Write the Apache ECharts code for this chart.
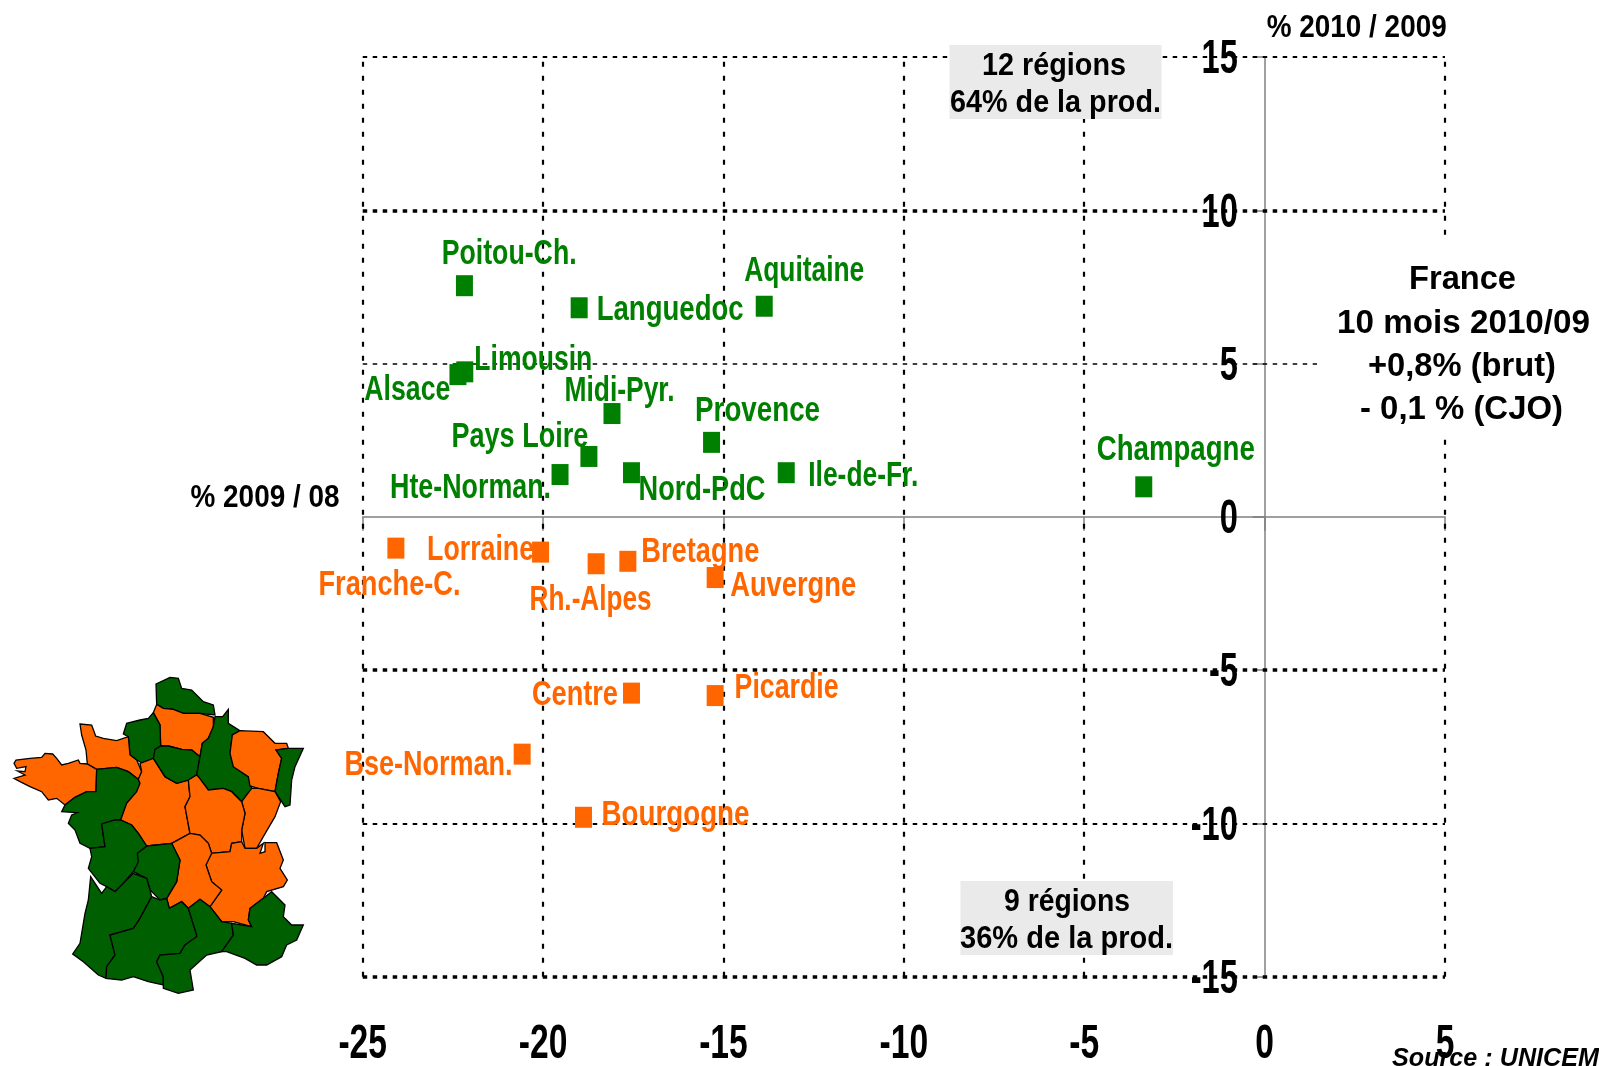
<!DOCTYPE html>
<html><head><meta charset="utf-8">
<style>html,body{margin:0;padding:0;background:#fff}#c{width:1599px;height:1066px}</style>
<script src="https://cdn.jsdelivr.net/npm/echarts@6/dist/echarts.min.js"></script>
</head><body><div id="c"></div>
<script>
// ---- data ----
const xTicks = [-25,-20,-15,-10,-5,0,5];
const yTicks = [15,10,5,0,-5,-10,-15];
const greenNames = ['Poitou-Ch.','Languedoc','Aquitaine','Limousin','Alsace','Midi-Pyr.','Provence','Pays Loire','Hte-Norman.','Nord-PdC','Ile-de-Fr.','Champagne'];
const greenX = [-22.18,-19.0,-13.87,-22.17,-22.36,-18.09,-15.33,-18.73,-19.53,-17.55,-13.26,-3.35];
const greenY = [7.54,6.82,6.87,4.73,4.64,3.37,2.43,1.97,1.38,1.44,1.44,0.98];
const orangeNames = ['Franche-C.','Lorraine','Rh.-Alpes','Bretagne','Auvergne','Centre','Picardie','Bse-Norman.','Bourgogne'];
const orangeX = [-24.08,-20.07,-18.53,-17.65,-15.23,-17.55,-15.23,-20.58,-18.88];
const orangeY = [-1.02,-1.15,-1.53,-1.45,-1.98,-5.75,-5.83,-7.74,-9.8];
const notes = {
  axisY:'% 2010 / 2009', axisX:'% 2009 / 08',
  top:['12 régions','64% de la prod.'], bottom:['9 régions','36% de la prod.'],
  france:['France','10 mois 2010/09','+0,8% (brut)','- 0,1 % (CJO)'],
  source:'Source : UNICEM'
};

// ---- layout of labels: [dx, dy, width] from the marker, in pixels ----
const labelPlace = {
 'Poitou-Ch.':[43.7,-33.3,135],'Languedoc':[90,1,147],'Aquitaine':[39,-37,120],'Limousin':[67.5,-14,118],
 'Alsace':[-51.6,14,86],'Midi-Pyr.':[6.5,-24,110],'Provence':[45,-33,125],'Pays Loire':[-70,-21,137],
 'Hte-Norman.':[-90.5,11.7,161],'Nord-PdC':[69.5,15.7,127],'Ile-de-Fr.':[76,2,110],'Champagne':[31,-38,158],
 'Franche-C.':[-7.4,35,142],'Lorraine':[-61,-3.4,107],'Rh.-Alpes':[-6.6,34.7,122],'Bretagne':[71.5,-11,118],
 'Auvergne':[77,6.7,126],'Centre':[-57.5,0,86],'Picardie':[70.4,-9,104],'Bse-Norman.':[-94.7,9,168],'Bourgogne':[91,-4,148]
};
const GREEN='#008000', ORANGE='#FF6600', FONT='"Liberation Sans"';
const measure = document.createElement('canvas').getContext('2d');
function fit(text,font,w){measure.font=font;return w/measure.measureText(text).width;}

function labelSeries(names,xs,ys,color){
  const font='bold 35px '+FONT;
  return {type:'custom',coordinateSystem:'cartesian2d',z:60,clip:false,silent:true,
    data:names.map((n,i)=>[xs[i],ys[i]]),encode:{x:0,y:1},
    renderItem(p,api){
      const c=api.coord([api.value(0),api.value(1)]),n=names[p.dataIndex],L=labelPlace[n];
      return {type:'text',x:c[0]+L[0]+1,y:c[1]+L[1]+2,scaleX:fit(n,font,L[2]),
        style:{text:n,x:0,y:0,align:'center',verticalAlign:'middle',font,fill:color}};
    }};
}
const tickFont='bold 48px '+FONT;
const xTickSeries={type:'custom',coordinateSystem:'cartesian2d',z:60,clip:false,silent:true,
  data:xTicks.map(v=>[v,-15]),encode:{x:0,y:1},
  renderItem(p,api){const c=api.coord([api.value(0),api.value(1)]);
    return {type:'text',x:c[0],y:c[1]+68,scaleX:0.7,
      style:{text:String(api.value(0)),x:0,y:0,align:'center',verticalAlign:'middle',font:tickFont,fill:'#000'}};}};
const yTickSeries={type:'custom',coordinateSystem:'cartesian2d',z:60,clip:false,silent:true,
  data:yTicks.map(v=>[0,v]),encode:{x:0,y:1},
  renderItem(p,api){const c=api.coord([api.value(0),api.value(1)]);
    return {type:'text',x:c[0]-26.7,y:c[1]+3,scaleX:0.68,
      style:{text:String(api.value(1)),x:0,y:0,align:'right',verticalAlign:'middle',font:tickFont,fill:'#000'}};}};

function note(text,cx,cy,w,size,extra){
  const font=(extra||'bold')+' '+size+'px '+FONT;
  return {type:'text',x:cx,y:cy+2,z:100,scaleX:fit(text,font,w),silent:true,
    style:{text,x:0,y:0,align:'center',verticalAlign:'middle',font,fill:'#000'}};
}
function box(x,y,w,h,fill){return {type:'rect',z:50,silent:true,shape:{x,y,width:w,height:h},style:{fill}};}

// ---- decorative map of France (outline) ----
const mapRegions=[
 [GREEN,[[468,72],[510,52],[535,55],[545,85],[575,90],[610,125],[640,135],[645,165],[600,160],[550,160],[520,148],[490,145],[470,133]]],
 [ORANGE,[[470,133],[490,145],[520,148],[550,160],[600,160],[640,172],[640,200],[625,235],[607,250],[600,290],[575,270],[545,268],[505,258],[482,258],[480,195],[460,158]]],
 [GREEN,[[460,158],[480,195],[482,258],[465,268],[465,295],[428,310],[410,300],[390,285],[385,230],[370,222],[380,190],[420,180],[445,175]]],
 [ORANGE,[[240,192],[275,195],[287,228],[310,235],[350,242],[385,230],[390,285],[410,300],[425,335],[415,358],[385,335],[350,322],[290,328],[262,312],[258,270],[245,225]]],
 [ORANGE,[[42,310],[48,300],[90,295],[125,292],[135,280],[158,282],[170,295],[185,315],[205,310],[235,300],[240,310],[262,312],[290,328],[288,395],[260,395],[225,412],[195,435],[170,415],[145,420],[125,395],[90,380],[60,365],[42,355],[75,345],[52,333],[75,335],[78,320],[50,325]]],
 [GREEN,[[290,328],[350,322],[385,335],[415,358],[420,370],[410,395],[380,430],[362,480],[345,480],[305,492],[315,560],[270,565],[240,550],[225,510],[205,490],[215,465],[232,458],[185,455],[195,435],[225,412],[260,395],[288,395]]],
 [ORANGE,[[415,358],[425,335],[420,310],[460,295],[495,350],[530,370],[565,360],[570,410],[555,440],[570,520],[515,550],[440,558],[415,520],[395,495],[362,480],[380,430],[410,395],[420,370]]],
 [GREEN,[[465,268],[482,258],[505,258],[545,268],[575,270],[600,290],[590,345],[565,360],[530,370],[495,350],[460,295]]],
 [GREEN,[[600,290],[607,250],[625,235],[640,200],[645,170],[668,170],[685,148],[685,190],[720,212],[697,225],[690,280],[700,320],[745,350],[755,385],[725,425],[695,395],[670,385],[625,390],[595,350],[590,345]]],
 [ORANGE,[[720,212],[790,215],[825,250],[860,250],[865,265],[828,270],[845,295],[835,340],[825,395],[775,385],[750,378],[745,350],[700,320],[690,280],[697,225]]],
 [GREEN,[[828,270],[865,265],[910,265],[885,320],[875,360],[870,435],[855,440],[825,395],[835,340],[845,295]]],
 [ORANGE,[[725,425],[755,385],[775,385],[825,395],[842,425],[825,470],[790,530],[770,565],[735,565],[725,510],[735,460]]],
 [ORANGE,[[565,360],[590,345],[595,350],[625,390],[670,385],[695,395],[725,425],[735,460],[725,510],[725,545],[695,550],[690,575],[635,580],[625,550],[600,525],[570,520],[555,440],[570,410]]],
 [ORANGE,[[630,580],[690,575],[695,550],[725,545],[735,565],[770,565],[790,550],[780,580],[795,575],[795,548],[830,548],[850,600],[840,625],[862,660],[850,680],[800,695],[790,715],[750,745],[745,780],[755,800],[700,785],[665,785],[630,740],[665,690],[635,665],[618,615]]],
 [ORANGE,[[515,550],[570,520],[600,525],[625,550],[635,580],[618,615],[635,665],[665,690],[630,740],[600,718],[565,745],[545,725],[508,745],[500,715],[530,665],[540,600]]],
 [GREEN,[[412,580],[440,558],[515,550],[540,600],[530,665],[500,715],[480,720],[450,690],[440,655],[400,635]]],
 [GREEN,[[305,492],[345,480],[362,480],[395,495],[415,520],[440,558],[412,580],[415,605],[400,635],[365,675],[345,695],[320,680],[300,670],[265,625],[275,590],[270,565],[315,560]]],
 [GREEN,[[400,640],[440,655],[450,690],[455,710],[420,775],[400,805],[330,825],[345,885],[320,920],[318,955],[295,945],[250,905],[218,882],[240,850],[255,760],[265,720],[272,650],[305,700],[320,680],[345,695],[365,675]]],
 [GREEN,[[455,710],[480,720],[500,715],[508,745],[545,725],[565,745],[590,825],[590,830],[555,855],[540,880],[480,885],[470,905],[490,950],[490,975],[445,965],[400,950],[365,960],[318,955],[320,920],[345,885],[330,825],[400,805],[420,775]]],
 [GREEN,[[565,745],[600,718],[630,740],[665,785],[695,790],[700,825],[665,875],[620,885],[570,930],[580,990],[535,1000],[490,985],[490,950],[470,905],[480,885],[540,880],[555,855],[590,830],[590,825]]],
 [GREEN,[[790,715],[815,695],[855,735],[850,770],[875,795],[910,795],[890,840],[860,855],[845,890],[800,915],[770,915],[735,895],[680,875],[665,875],[700,825],[695,790],[755,800],[745,780],[750,745]]]
];
const MAP_GREEN='#005F00';
const mapGraphic=mapRegions.map(([col,pts])=>({type:'polygon',z:10,silent:true,
  shape:{points:pts.map(([x,y])=>[x/3,660+y/3])},
  style:{fill:col===GREEN?MAP_GREEN:ORANGE,stroke:'#000',lineWidth:1.3}}));

const hLevels=[15,10,5,-5,-10,-15];
const hStyles=[
 {color:'#000',width:2,type:[4.5,5.5]},
 {color:'#000',width:3.5,type:[4.5,5.5]},
 {color:'#000',width:1.6,type:[4.5,5.5]},
 {color:'#000',width:3.5,type:[4.5,5.5]},
 {color:'#000',width:2,type:[4.5,5.5]},
 {color:'#000',width:3.5,type:[4.5,5.5]}
];
const vLevels=[-25,-20,-15,-10,-5,5];
const vStyle={color:'#000',width:2.2,type:[5,9]};
const axisGrey={lineStyle:{color:'#808080',width:1.5}};

const chart=echarts.init(document.getElementById('c'),null,{renderer:'canvas'});
chart.setOption({
 animation:false,backgroundColor:'#fff',
 grid:{left:362.7,right:154,top:57,bottom:89.3},
 xAxis:{type:'value',min:-25,max:5,interval:5,axisLabel:{show:false},
   axisLine:{onZero:true,...axisGrey},axisTick:{show:true,inside:false,length:14,...axisGrey},
   splitLine:{show:false}},
 yAxis:{type:'value',min:-15,max:15,interval:5,axisLabel:{show:false},
   axisLine:{onZero:true,...axisGrey},axisTick:{show:true,inside:false,length:12,...axisGrey},
   splitLine:{show:false}},
 series:[
  {type:'scatter',name:'hausse',z:20,symbol:'rect',symbolSize:[17,21],itemStyle:{color:GREEN,opacity:1},
   data:greenX.map((x,i)=>[x,greenY[i]]),
   markLine:{silent:true,symbol:'none',label:{show:false},animation:false,
     data:[...hLevels.map((v,i)=>({yAxis:v,lineStyle:hStyles[i]})),
           ...vLevels.map(v=>({xAxis:v,lineStyle:vStyle}))]}},
  {type:'scatter',name:'baisse',z:20,symbol:'rect',symbolSize:[17,21],itemStyle:{color:ORANGE,opacity:1},
   data:orangeX.map((x,i)=>[x,orangeY[i]])},
  labelSeries(greenNames,greenX,greenY,GREEN),
  labelSeries(orangeNames,orangeX,orangeY,ORANGE),
  xTickSeries,yTickSeries
 ],
 graphic:[
  box(949.5,45,212,74,'#EAEAEA'),box(960.5,881,212.5,74,'#EAEAEA'),
  box(1317,243,282,193,'#fff'),
  ...mapGraphic,
  note(notes.top[0],1054,64,144,32),note(notes.top[1],1055.5,101,211,32),
  note(notes.bottom[0],1067,900,126,32),note(notes.bottom[1],1066.5,937,213,32),
  note(notes.axisY,1356.7,26,180,32),note(notes.axisX,265,496.6,149,32),
  note(notes.france[0],1462.5,278,107,33),note(notes.france[1],1463.5,322,253,33),
  note(notes.france[2],1462,365,188,33),note(notes.france[3],1461.5,408,203,33),
  note(notes.source,1495.5,1057,207,26,'italic bold')
 ]
});
</script></body></html>
